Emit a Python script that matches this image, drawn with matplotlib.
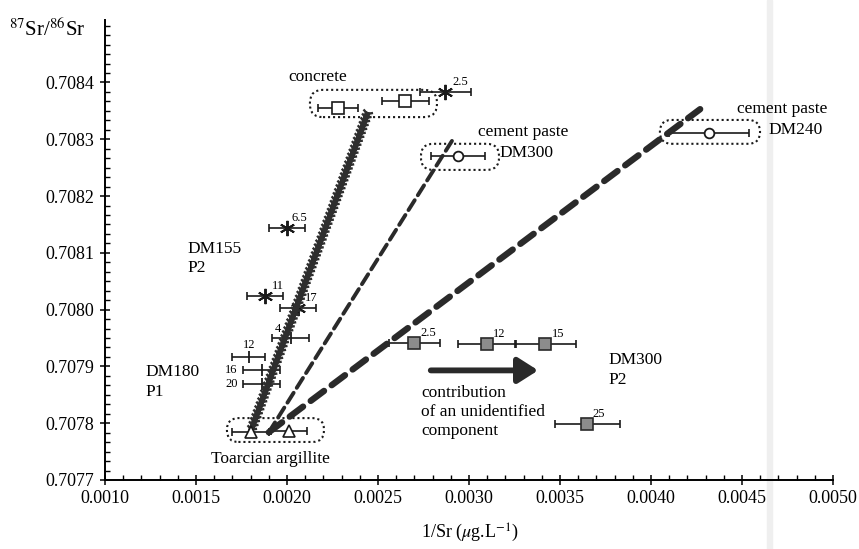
import numpy as np
import matplotlib
matplotlib.use("Agg")
import matplotlib.pyplot as plt
import matplotlib.patheffects as pe
from matplotlib.patches import FancyBboxPatch, Rectangle
from matplotlib.ticker import MultipleLocator, FormatStrFormatter

plt.rcParams["font.family"] = ["Liberation Serif", "DejaVu Serif"]
plt.rcParams["mathtext.fontset"] = "stix"

# ---- data -------------------------------------------------------------
# Concrete (open squares)
concrete_x = [0.00228, 0.00265]
concrete_y = [0.708355, 0.708368]
concrete_xerr = [0.00011, 0.00013]

# DM155 P2 leachates (asterisks), labelled by sampling day
dm155_labels = ["2.5", "6.5", "11", "17"]
dm155_x = [0.00287, 0.00200, 0.00188, 0.00206]
dm155_y = [0.708384, 0.708143, 0.708024, 0.708002]
dm155_xerr = [0.00014, 0.00010, 0.00010, 0.00010]

# DM180 P1 leachates (plus signs)
dm180_labels = ["4", "12", "16", "20"]
dm180_x = [0.00202, 0.00179, 0.00186, 0.00186]
dm180_y = [0.707950, 0.707917, 0.707894, 0.707869]
dm180_xerr = [0.00010, 0.00009, 0.00010, 0.00010]

# DM300 P2 leachates (grey squares)
dm300p2_labels = ["2.5", "12", "15", "25"]
dm300p2_x = [0.00270, 0.00310, 0.00342, 0.00365]
dm300p2_y = [0.707942, 0.707939, 0.707940, 0.707798]
dm300p2_xerr = [0.00014, 0.00016, 0.00017, 0.00018]

# Cement pastes DM300 and DM240 (open circles)
paste_x = [0.00294, 0.00432]
paste_y = [0.708271, 0.708311]
paste_xerr = [0.00015, 0.00022]

# Toarcian argillite (open triangles)
toarcian_x = [0.00180, 0.00201]
toarcian_y = [0.707785, 0.707786]
toarcian_xerr = [0.00010, 0.00010]

# Mixing lines between the argillite and each end-member
mix_concrete_x = [0.00180, 0.002445]
mix_concrete_y = [0.707785, 0.708348]
mix_dm300_x = [0.00190, 0.00292]
mix_dm300_y = [0.707784, 0.708304]
mix_dm240_x = [0.00190, 0.00427]
mix_dm240_y = [0.707784, 0.708353]

x_ticks = [0.0010, 0.0015, 0.0020, 0.0025, 0.0030, 0.0035, 0.0040, 0.0045, 0.0050]
y_ticks = [0.7077, 0.7078, 0.7079, 0.7080, 0.7081, 0.7082, 0.7083, 0.7084]

# ---- figure -----------------------------------------------------------
W, H = 859, 549
fig = plt.figure(figsize=(W / 100, H / 100), dpi=100)
ax = fig.add_axes([105 / W, 1 - 480 / H, 728 / W, 460 / H])
ax.set_facecolor("none")

# faint vertical scanner streak
fig.patches.append(Rectangle((767 / W, 0), 5 / W, 1, transform=fig.transFigure,
                             color="#efefef", zorder=-1))

ax.set_xlim(0.0010, 0.0050)
ax.set_ylim(0.7077, 0.70851)
for s in ("top", "right"):
    ax.spines[s].set_visible(False)
for s in ("left", "bottom"):
    ax.spines[s].set_linewidth(1.4)

ax.set_xticks(x_ticks)
ax.set_yticks(y_ticks)
ax.xaxis.set_major_formatter(FormatStrFormatter("%.4f"))
ax.yaxis.set_major_formatter(FormatStrFormatter("%.4f"))
ax.xaxis.set_minor_locator(MultipleLocator(0.0001))
ax.yaxis.set_minor_locator(MultipleLocator(0.0001 / 6))
ax.tick_params(which="major", direction="inout", length=7, width=1.1,
               labelsize=13, pad=4)
ax.tick_params(which="minor", direction="in", length=3.5, width=1.0)

err_kw = dict(fmt="none", ecolor="#1a1a1a", elinewidth=1.2, capsize=3,
              capthick=1.2, zorder=2)

# mixing lines
ax.plot(mix_concrete_x, mix_concrete_y, color="#2e2e2e", lw=4.0,
        solid_capstyle="butt", zorder=4,
        path_effects=[pe.withTickedStroke(angle=60, spacing=3.0, length=1.4,
                                          linewidth=1.7, foreground="#2e2e2e"),
                      pe.withTickedStroke(angle=-60, spacing=3.0, length=1.4,
                                          linewidth=1.7, foreground="#2e2e2e")])
ax.plot(mix_dm300_x, mix_dm300_y, color="#2a2a2a", lw=2.8,
        dashes=(3.0, 1.5), dash_capstyle="round", zorder=4)
ax.plot(mix_dm240_x, mix_dm240_y, color="#2a2a2a", lw=4.6,
        dashes=(2.6, 1.5), dash_capstyle="round", zorder=4)

# concrete
ax.errorbar(concrete_x, concrete_y, xerr=concrete_xerr, **err_kw)
ax.plot(concrete_x, concrete_y, ls="none", marker="s", ms=8, mfc="white",
        mec="#1a1a1a", mew=1.2, zorder=3)

# DM155 P2
ax.errorbar(dm155_x, dm155_y, xerr=dm155_xerr, **err_kw)
ax.plot(dm155_x, dm155_y, ls="none", marker=(6, 2, 0), ms=11, mec="#1a1a1a",
        mew=1.4, zorder=3)

# DM180 P1
ax.errorbar(dm180_x, dm180_y, xerr=dm180_xerr, **err_kw)
ax.plot(dm180_x, dm180_y, ls="none", marker="|", ms=9, mec="#1a1a1a",
        mew=1.3, zorder=3)

# DM300 P2
ax.errorbar(dm300p2_x, dm300p2_y, xerr=dm300p2_xerr, **err_kw)
ax.plot(dm300p2_x, dm300p2_y, ls="none", marker="s", ms=9, mfc="#8c8c8c",
        mec="#2a2a2a", mew=1.2, zorder=3)

# cement pastes
ax.errorbar(paste_x, paste_y, xerr=paste_xerr, **err_kw)
ax.plot(paste_x, paste_y, ls="none", marker="o", ms=7, mfc="white",
        mec="#1a1a1a", mew=1.3, zorder=5)

# Toarcian argillite
ax.errorbar(toarcian_x, toarcian_y, xerr=toarcian_xerr, **err_kw)
ax.plot(toarcian_x, toarcian_y, ls="none", marker="^", ms=8, mfc="white",
        mec="#1a1a1a", mew=1.2, zorder=5)

# sample-day labels
small = dict(fontsize=9, ha="center", va="center", textcoords="offset pixels")
for lab, x, y, off in zip(dm155_labels, dm155_x, dm155_y,
                          [(15, 10), (12, 10), (13, 10), (13, 10)]):
    ax.annotate(lab, (x, y), xytext=off, **small)
for lab, x, y, off in zip(dm180_labels, dm180_x, dm180_y,
                          [(-13, 9), (0, 12), (-30, 0), (-30, 0)]):
    ax.annotate(lab, (x, y), xytext=off, **small)
for lab, x, y, off in zip(dm300p2_labels, dm300p2_x, dm300p2_y,
                          [(14, 10), (12, 10), (13, 10), (11, 10)]):
    ax.annotate(lab, (x, y), xytext=off, **small)

# dotted groupings
fig.canvas.draw()
bb = ax.get_window_extent()
aspect = ((0.70851 - 0.7077) / bb.height) / ((0.0050 - 0.0010) / bb.width)


def dotted_box(x0, x1, y0, y1):
    h_equiv = (y1 - y0) / aspect
    box = FancyBboxPatch((x0, y0), x1 - x0, y1 - y0,
                         boxstyle=f"round,pad=0,rounding_size={0.48 * h_equiv}",
                         mutation_aspect=aspect, fill=False, ec="#1a1a1a",
                         lw=1.5, ls=(0, (1, 1.4)), zorder=3)
    ax.add_patch(box)


dotted_box(0.002126, 0.002824, 0.708339, 0.708387)
dotted_box(0.002736, 0.003165, 0.708246, 0.708292)
dotted_box(0.004049, 0.004599, 0.708292, 0.708334)
dotted_box(0.001670, 0.002203, 0.707767, 0.707809)

# arrow
ax.annotate("", xy=(0.003380, 0.707893), xytext=(0.002790, 0.707893),
            arrowprops=dict(arrowstyle="-|>,head_length=0.55,head_width=0.35",
                            lw=4.2, color="#2a2a2a", shrinkA=0, shrinkB=0,
                            mutation_scale=22))

# annotations
big = dict(fontsize=12.5)
ax.text(0.00217, 0.708409, "concrete", ha="center", va="center", **big)
ax.text(0.003049, 0.708313, "cement paste", ha="left", va="center", **big)
ax.text(0.003170, 0.708276, "DM300", ha="left", va="center", **big)
ax.text(0.004473, 0.708353, "cement paste", ha="left", va="center", **big)
ax.text(0.004643, 0.708316, "DM240", ha="left", va="center", **big)
ax.text(0.001451, 0.708090, "DM155\nP2", ha="left", va="center",
        linespacing=1.3, **big)
ax.text(0.001220, 0.707873, "DM180\nP1", ha="left", va="center",
        linespacing=1.3, **big)
ax.text(0.003764, 0.707894, "DM300\nP2", ha="left", va="center",
        linespacing=1.3, **big)
ax.text(0.002736, 0.707819, "contribution\nof an unidentified\ncomponent",
        ha="left", va="center", linespacing=1.25, **big)
ax.text(0.001907, 0.707737, "Toarcian argillite", ha="center", va="center", **big)

# axis titles
fig.text(47 / W, 1 - 30 / H, r"$^{87}$Sr/$^{86}$Sr", ha="center", va="center",
         fontsize=15)
fig.text(470 / W, 1 - 533 / H, r"1/Sr ($\mu$g.L$^{-1}$)", ha="center",
         va="center", fontsize=13)

fig.savefig("out.png", dpi=100)
